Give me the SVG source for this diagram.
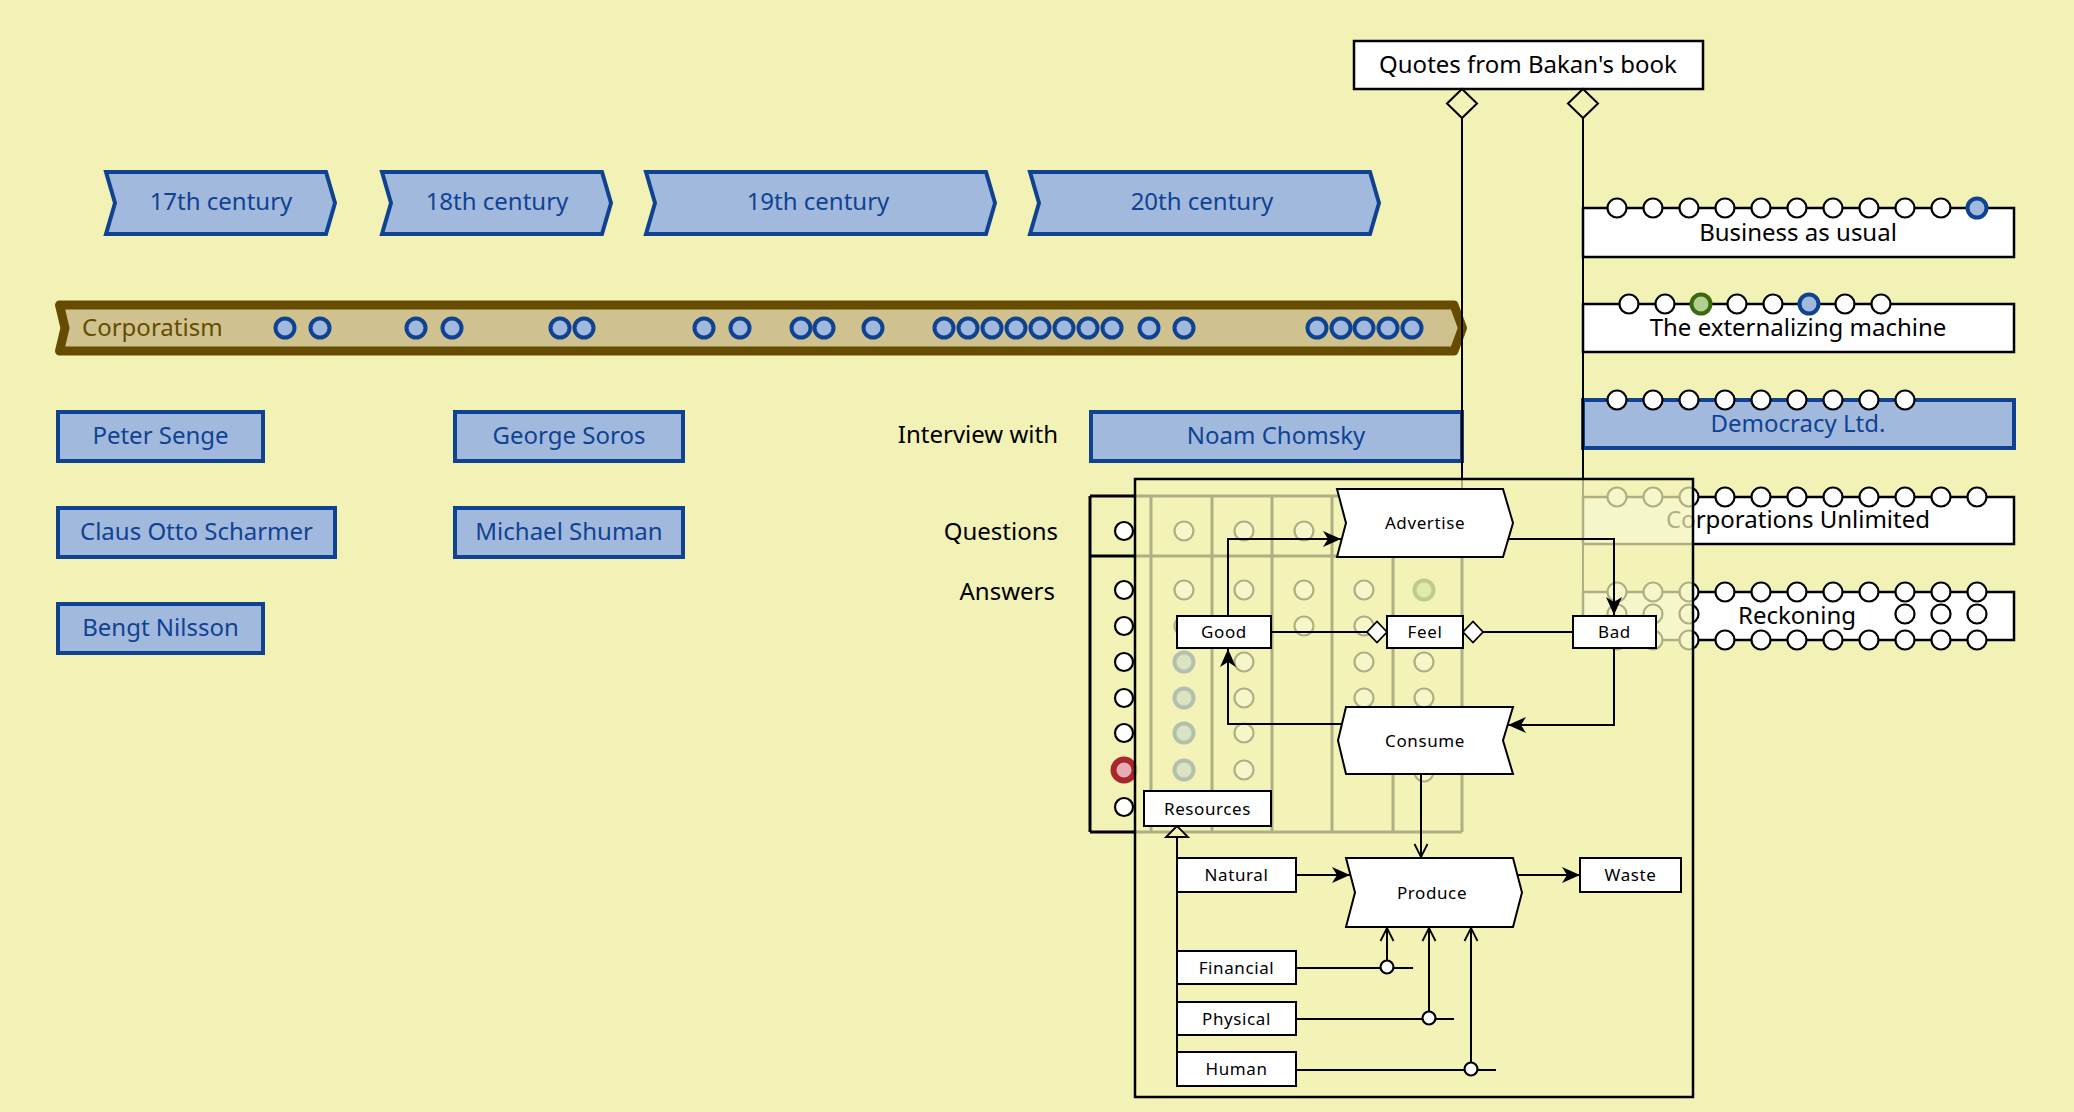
<svg xmlns="http://www.w3.org/2000/svg" width="2074" height="1112" viewBox="0 0 2074 1112">
<style>
text { font-family: "Noto Sans", "Open Sans", "DejaVu Sans", sans-serif; }
.t24 { font-size: 24px; }
.t17 { font-size: 17px; letter-spacing: 0.6px; fill: #000; }
.mid { text-anchor: middle; }
.end { text-anchor: end; }
.blk { fill: #000; }
.bluetxt { fill: #0f4391; }
.blue { fill: #a2b9de; stroke: #0f4391; stroke-width: 4; }
.box { fill: #fff; stroke: #000; stroke-width: 2.5; }
.sbox { fill: #fff; stroke: #000; stroke-width: 2; }
.dot { fill: #fff; stroke: #000; stroke-width: 2.2; }
.dotb { fill: #a2b9de; stroke: #0f4391; stroke-width: 4; }
.dotg { fill: #b2cf92; stroke: #3b6a0c; stroke-width: 4; }
.dotr { fill: #e7adb5; stroke: #a8262c; stroke-width: 6; }
.line { fill: none; stroke: #000; stroke-width: 2; }
.tbl { fill: none; stroke: #000; stroke-width: 3; }
</style>
<defs>
<marker id="bigDiamond" markerUnits="userSpaceOnUse" markerWidth="32" markerHeight="32" orient="auto" overflow="visible" refX="0" refY="0">
<path d="M0,0 L14.5,-15 L29,0 L14.5,15 Z" fill="#f2f2b7" stroke="#000" stroke-width="2"/>
</marker>
<marker id="smallDiamond" markerUnits="userSpaceOnUse" markerWidth="22" markerHeight="22" orient="auto" overflow="visible" refX="0" refY="0">
<path d="M0,0 L-10,-10.5 L-20,0 L-10,10.5 Z" fill="#fff" stroke="#000" stroke-width="1.8"/>
</marker>
<marker id="arrowFill" markerUnits="userSpaceOnUse" markerWidth="20" markerHeight="20" orient="auto" overflow="visible" refX="0" refY="0">
<path d="M0,0 L-18,-8 L-13,0 L-18,8 Z" fill="#000"/>
</marker>
<marker id="arrowOpen" markerUnits="userSpaceOnUse" markerWidth="16" markerHeight="16" orient="auto" overflow="visible" refX="0" refY="0">
<path d="M-13,-6.5 L0,0 L-13,6.5" fill="none" stroke="#000" stroke-width="1.8"/>
</marker>
<marker id="inherit" markerUnits="userSpaceOnUse" markerWidth="16" markerHeight="26" orient="auto" overflow="visible" refX="0" refY="0">
<path d="M0,0 L-11,-11 L-11,11 Z" fill="#f2f2b7" stroke="#000" stroke-width="1.8"/>
</marker>
</defs>

<rect x="0" y="0" width="2074" height="1112" fill="#f2f2b7"/>

<g id="century-17">
<path class="blue" d="M106,172 H326 L335,203 L326,234 H106 L115,203 Z"/>
<text class="t24 mid bluetxt" x="221" y="210">17th century</text>
</g>
<g id="century-18">
<path class="blue" d="M382,172 H602 L611,203 L602,234 H382 L391,203 Z"/>
<text class="t24 mid bluetxt" x="497" y="210">18th century</text>
</g>
<g id="century-19">
<path class="blue" d="M646,172 H986 L995,203 L986,234 H646 L655,203 Z"/>
<text class="t24 mid bluetxt" x="818" y="210">19th century</text>
</g>
<g id="century-20">
<path class="blue" d="M1030,172 H1370 L1379,203 L1370,234 H1030 L1039,203 Z"/>
<text class="t24 mid bluetxt" x="1202" y="210">20th century</text>
</g>

<g id="corporatism">
<path d="M59.5,305 H1454 L1462.5,328 L1454,351 H59.5 L65,328 Z" fill="#cfc28f" stroke="#664c00" stroke-width="9" stroke-linejoin="round"/>
<text class="t24" x="82" y="336" fill="#664c00">Corporatism</text>
<g class="dotb">
<circle cx="285" cy="328" r="9.5"/><circle cx="320" cy="328" r="9.5"/>
<circle cx="416" cy="328" r="9.5"/><circle cx="452" cy="328" r="9.5"/>
<circle cx="560" cy="328" r="9.5"/><circle cx="584" cy="328" r="9.5"/>
<circle cx="704" cy="328" r="9.5"/><circle cx="740" cy="328" r="9.5"/>
<circle cx="801" cy="328" r="9.5"/><circle cx="824" cy="328" r="9.5"/>
<circle cx="873" cy="328" r="9.5"/>
<circle cx="944" cy="328" r="9.5"/><circle cx="968" cy="328" r="9.5"/><circle cx="992" cy="328" r="9.5"/><circle cx="1016" cy="328" r="9.5"/><circle cx="1040" cy="328" r="9.5"/><circle cx="1064" cy="328" r="9.5"/><circle cx="1088" cy="328" r="9.5"/><circle cx="1112" cy="328" r="9.5"/>
<circle cx="1149" cy="328" r="9.5"/><circle cx="1184" cy="328" r="9.5"/>
<circle cx="1317" cy="328" r="9.5"/><circle cx="1341" cy="328" r="9.5"/><circle cx="1364" cy="328" r="9.5"/><circle cx="1388" cy="328" r="9.5"/><circle cx="1412" cy="328" r="9.5"/>
</g>
</g>

<g id="peter-senge"><rect class="blue" x="58" y="412" width="205" height="49"/><text class="t24 mid bluetxt" x="160.5" y="444">Peter Senge</text></g>
<g id="claus-otto-scharmer"><rect class="blue" x="58" y="508" width="277" height="49"/><text class="t24 mid bluetxt" x="196.5" y="540">Claus Otto Scharmer</text></g>
<g id="bengt-nilsson"><rect class="blue" x="58" y="604" width="205" height="49"/><text class="t24 mid bluetxt" x="160.5" y="636">Bengt Nilsson</text></g>
<g id="george-soros"><rect class="blue" x="455" y="412" width="228" height="49"/><text class="t24 mid bluetxt" x="569" y="444">George Soros</text></g>
<g id="michael-shuman"><rect class="blue" x="455" y="508" width="228" height="49"/><text class="t24 mid bluetxt" x="569" y="540">Michael Shuman</text></g>
<g id="noam-chomsky"><rect class="blue" x="1091" y="412" width="371" height="49"/><text class="t24 mid bluetxt" x="1276" y="444">Noam Chomsky</text></g>

<g id="labels">
<text class="t24 end blk" x="1058" y="443">Interview with</text>
<text class="t24 end blk" x="1058" y="540">Questions</text>
<text class="t24 end blk" x="1055" y="600">Answers</text>
</g>

<g id="quotes-bakan">
<rect class="box" x="1354" y="41" width="349" height="48"/>
<text class="t24 mid blk" x="1528" y="73">Quotes from Bakan's book</text>
</g>

<g id="interview-table">
<path class="tbl" d="M1090,496 H1462 M1090,556 H1462 M1090,832 H1462 M1090,496 V832 M1151,496 V832 M1212,496 V832 M1272,496 V832 M1332,496 V832 M1393,496 V832 M1462,496 V832"/>
<g class="dot">
<circle cx="1124" cy="531" r="9"/><circle cx="1124" cy="590" r="9"/><circle cx="1124" cy="626" r="9"/><circle cx="1124" cy="662" r="9"/><circle cx="1124" cy="698" r="9"/><circle cx="1124" cy="733" r="9"/><circle cx="1124" cy="807" r="9"/>
<circle cx="1184" cy="531" r="9.5"/><circle cx="1244" cy="531" r="9.5"/><circle cx="1304" cy="531" r="9.5"/><circle cx="1364" cy="531" r="9.5"/><circle cx="1424" cy="531" r="9.5"/>
<circle cx="1184" cy="590" r="9.5"/><circle cx="1244" cy="590" r="9.5"/><circle cx="1304" cy="590" r="9.5"/><circle cx="1364" cy="590" r="9.5"/>
<circle cx="1184" cy="626" r="9.5"/><circle cx="1244" cy="626" r="9.5"/><circle cx="1304" cy="626" r="9.5"/><circle cx="1364" cy="626" r="9.5"/><circle cx="1424" cy="626" r="9.5"/>
<circle cx="1244" cy="662" r="9.5"/><circle cx="1364" cy="662" r="9.5"/><circle cx="1424" cy="662" r="9.5"/>
<circle cx="1244" cy="698" r="9.5"/><circle cx="1364" cy="698" r="9.5"/><circle cx="1424" cy="698" r="9.5"/>
<circle cx="1244" cy="733" r="9.5"/><circle cx="1364" cy="733" r="9.5"/><circle cx="1424" cy="733" r="9.5"/>
<circle cx="1244" cy="770" r="9.5"/><circle cx="1424" cy="772" r="9.5"/>
</g>
<circle class="dotr" cx="1124" cy="770" r="10.5"/>
<circle class="dotg" cx="1424" cy="590" r="9.5"/>
<g class="dotb">
<circle cx="1184" cy="662" r="9.5"/><circle cx="1184" cy="698" r="9.5"/><circle cx="1184" cy="733" r="9.5"/><circle cx="1184" cy="770" r="9.5"/>
</g>
</g>

<g id="business-as-usual">
<rect class="box" x="1583" y="208" width="431" height="49"/>
<text class="t24 mid blk" x="1798" y="241">Business as usual</text>
<g class="dot">
<circle cx="1617" cy="208" r="9.5"/><circle cx="1653" cy="208" r="9.5"/><circle cx="1689" cy="208" r="9.5"/><circle cx="1725" cy="208" r="9.5"/><circle cx="1761" cy="208" r="9.5"/><circle cx="1797" cy="208" r="9.5"/><circle cx="1833" cy="208" r="9.5"/><circle cx="1869" cy="208" r="9.5"/><circle cx="1905" cy="208" r="9.5"/><circle cx="1941" cy="208" r="9.5"/>
</g>
<circle class="dotb" cx="1977" cy="208" r="9.5"/>
</g>

<g id="externalizing-machine">
<rect class="box" x="1583" y="304" width="431" height="48"/>
<text class="t24 mid blk" x="1798" y="336">The externalizing machine</text>
<g class="dot">
<circle cx="1629" cy="304" r="9.5"/><circle cx="1665" cy="304" r="9.5"/><circle cx="1737" cy="304" r="9.5"/><circle cx="1773" cy="304" r="9.5"/><circle cx="1845" cy="304" r="9.5"/><circle cx="1881" cy="304" r="9.5"/>
</g>
<circle class="dotg" cx="1701" cy="304" r="9.5"/>
<circle class="dotb" cx="1809" cy="304" r="9.5"/>
</g>

<g id="democracy-ltd">
<rect class="blue" x="1583" y="400" width="431" height="48" stroke-width="4.5"/>
<text class="t24 mid bluetxt" x="1798" y="432">Democracy Ltd.</text>
<g class="dot">
<circle cx="1617" cy="400" r="9.5"/><circle cx="1653" cy="400" r="9.5"/><circle cx="1689" cy="400" r="9.5"/><circle cx="1725" cy="400" r="9.5"/><circle cx="1761" cy="400" r="9.5"/><circle cx="1797" cy="400" r="9.5"/><circle cx="1833" cy="400" r="9.5"/><circle cx="1869" cy="400" r="9.5"/><circle cx="1905" cy="400" r="9.5"/>
</g>
</g>

<g id="corporations-unlimited">
<rect class="box" x="1583" y="497" width="431" height="47"/>
<text class="t24 mid blk" x="1798" y="528">Corporations Unlimited</text>
<g class="dot">
<circle cx="1617" cy="497" r="9.5"/><circle cx="1653" cy="497" r="9.5"/><circle cx="1689" cy="497" r="9.5"/><circle cx="1725" cy="497" r="9.5"/><circle cx="1761" cy="497" r="9.5"/><circle cx="1797" cy="497" r="9.5"/><circle cx="1833" cy="497" r="9.5"/><circle cx="1869" cy="497" r="9.5"/><circle cx="1905" cy="497" r="9.5"/><circle cx="1941" cy="497" r="9.5"/><circle cx="1977" cy="497" r="9.5"/>
</g>
</g>

<g id="reckoning">
<rect class="box" x="1583" y="592" width="431" height="48"/>
<text class="t24 mid blk" x="1797" y="624">Reckoning</text>
<g class="dot">
<circle cx="1617" cy="592" r="9.5"/><circle cx="1653" cy="592" r="9.5"/><circle cx="1689" cy="592" r="9.5"/><circle cx="1725" cy="592" r="9.5"/><circle cx="1761" cy="592" r="9.5"/><circle cx="1797" cy="592" r="9.5"/><circle cx="1833" cy="592" r="9.5"/><circle cx="1869" cy="592" r="9.5"/><circle cx="1905" cy="592" r="9.5"/><circle cx="1941" cy="592" r="9.5"/><circle cx="1977" cy="592" r="9.5"/>
<circle cx="1617" cy="614" r="9.5"/><circle cx="1653" cy="614" r="9.5"/><circle cx="1689" cy="614" r="9.5"/><circle cx="1905" cy="614" r="9.5"/><circle cx="1941" cy="614" r="9.5"/><circle cx="1977" cy="614" r="9.5"/>
<circle cx="1617" cy="640" r="9.5"/><circle cx="1653" cy="640" r="9.5"/><circle cx="1689" cy="640" r="9.5"/><circle cx="1725" cy="640" r="9.5"/><circle cx="1761" cy="640" r="9.5"/><circle cx="1797" cy="640" r="9.5"/><circle cx="1833" cy="640" r="9.5"/><circle cx="1869" cy="640" r="9.5"/><circle cx="1905" cy="640" r="9.5"/><circle cx="1941" cy="640" r="9.5"/><circle cx="1977" cy="640" r="9.5"/>
</g>
</g>

<g id="connectors-outer">
<path class="line" d="M1462,89 V496" marker-start="url(#bigDiamond)"/>
<path class="line" d="M1583,89 V640" marker-start="url(#bigDiamond)"/>
</g>

<g id="frame">
<rect x="1135" y="479" width="558" height="618" fill="#f2f2b7" fill-opacity="0.72" stroke="#000" stroke-width="2.5"/>
</g>

<g id="advertise"><path class="sbox" d="M1337,489 H1503 L1513,523 L1503,557 H1337 L1346,523 Z"/><text class="t17 mid" x="1425" y="529">Advertise</text></g>
<g id="consume"><path class="sbox" d="M1346,707 H1513 L1503,740.5 L1513,774 H1346 L1338,740.5 Z"/><text class="t17 mid" x="1425" y="747">Consume</text></g>
<g id="good"><rect class="sbox" x="1177" y="616" width="94" height="32"/><text class="t17 mid" x="1224" y="638">Good</text></g>
<g id="feel"><rect class="sbox" x="1387" y="616" width="76" height="32"/><text class="t17 mid" x="1425" y="638">Feel</text></g>
<g id="bad"><rect class="sbox" x="1573" y="616" width="83" height="32"/><text class="t17 mid" x="1614.5" y="638">Bad</text></g>
<g id="resources"><rect class="sbox" x="1144" y="791" width="127" height="35"/><text class="t17 mid" x="1207.5" y="815">Resources</text></g>
<g id="produce"><path class="sbox" d="M1346,858 H1513 L1522,892.5 L1513,927 H1346 L1355,892.5 Z"/><text class="t17 mid" x="1432" y="899">Produce</text></g>
<g id="natural"><rect class="sbox" x="1177" y="858" width="119" height="34"/><text class="t17 mid" x="1236.5" y="881">Natural</text></g>
<g id="waste"><rect class="sbox" x="1580" y="858" width="101" height="34"/><text class="t17 mid" x="1630.5" y="881">Waste</text></g>
<g id="financial"><rect class="sbox" x="1177" y="951" width="119" height="33"/><text class="t17 mid" x="1236.5" y="974">Financial</text></g>
<g id="physical"><rect class="sbox" x="1177" y="1002" width="119" height="33"/><text class="t17 mid" x="1236.5" y="1025">Physical</text></g>
<g id="human"><rect class="sbox" x="1177" y="1052" width="119" height="34"/><text class="t17 mid" x="1236.5" y="1075">Human</text></g>

<g id="connectors-inner">
<path class="line" d="M1228,616 V539 H1341" marker-end="url(#arrowFill)"/>
<path class="line" d="M1508,539 H1614 V615" marker-end="url(#arrowFill)"/>
<path class="line" d="M1614,648 V725 H1508" marker-end="url(#arrowFill)"/>
<path class="line" d="M1342,724 H1228 V649" marker-end="url(#arrowFill)"/>
<path class="line" d="M1421,774 V857" marker-end="url(#arrowOpen)"/>
<path class="line" d="M1296,875 H1350" marker-end="url(#arrowFill)"/>
<path class="line" d="M1518,875 H1580" marker-end="url(#arrowFill)"/>
<path class="line" d="M1271,632 H1387" marker-end="url(#smallDiamond)"/>
<path class="line" d="M1573,632 H1463" marker-end="url(#smallDiamond)"/>
<path class="line" d="M1177,1086 V826" marker-end="url(#inherit)"/>
<path class="line" stroke-width="2.6" d="M1296,968 H1413 M1296,1019 H1454 M1296,1070 H1496"/>
<path class="line" d="M1387,961 V928" marker-end="url(#arrowOpen)"/>
<path class="line" d="M1429,1012 V928" marker-end="url(#arrowOpen)"/>
<path class="line" d="M1471,1063 V928" marker-end="url(#arrowOpen)"/>
<g class="dot" stroke-width="2">
<circle cx="1387" cy="967" r="6.5"/><circle cx="1429" cy="1018" r="6.5"/><circle cx="1471" cy="1069" r="6.5"/>
</g>
</g>
</svg>
